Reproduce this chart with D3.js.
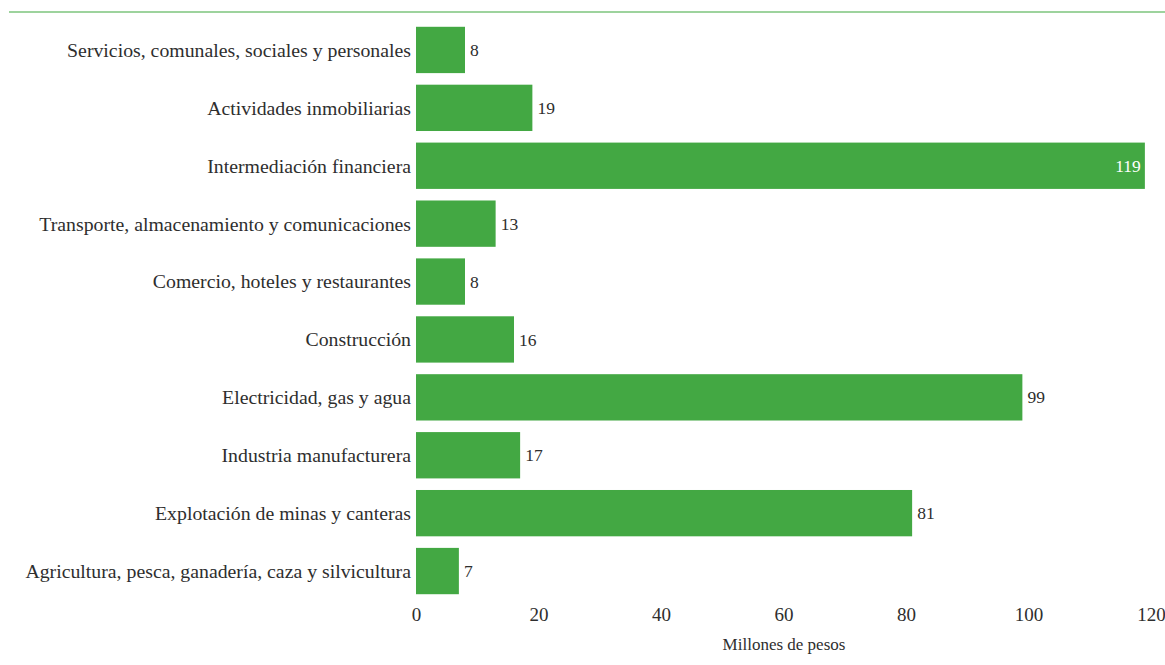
<!DOCTYPE html>
<html>
<head>
<meta charset="utf-8">
<script src="https://cdn.jsdelivr.net/npm/d3@7"></script>
<style>
  html, body { margin: 0; padding: 0; background: #fff; }
  svg { display: block; font-family: "Liberation Serif", "DejaVu Serif", serif; }
</style>
</head>
<body>
<svg id="chart" width="1165" height="665"></svg>
<script>
// Sectors, top to bottom
const categories = [
  "Servicios, comunales, sociales y personales",
  "Actividades inmobiliarias",
  "Intermediación financiera",
  "Transporte, almacenamiento y comunicaciones",
  "Comercio, hoteles y restaurantes",
  "Construcción",
  "Electricidad, gas y agua",
  "Industria manufacturera",
  "Explotación de minas y canteras",
  "Agricultura, pesca, ganadería, caza y silvicultura"
];
const values = [8, 19, 119, 13, 8, 16, 99, 17, 81, 7];
const xTicks = [0, 20, 40, 60, 80, 100, 120];
const xTitle = "Millones de pesos";

const barColor = "#43a843";
const textColor = "#2e2e2e";

const svg = d3.select("#chart");
const left = 416, right = 1151;

const x = d3.scaleLinear().domain([0, 120]).range([left, right]);
const y = d3.scaleBand().domain(categories).range([21, 600])
  .paddingInner(0.2).paddingOuter(0.1);

// Top rule
svg.append("line")
  .attr("x1", 9).attr("x2", 1165).attr("y1", 12).attr("y2", 12)
  .attr("stroke", "#7cc47d").attr("stroke-width", 1.5);

// Bars
svg.append("g").selectAll("rect").data(values).join("rect")
  .attr("x", x(0))
  .attr("y", (d, i) => y(categories[i]))
  .attr("width", d => x(d) - x(0))
  .attr("height", y.bandwidth())
  .attr("fill", barColor);

// Category labels
svg.append("g").selectAll("text").data(categories).join("text")
  .attr("x", left - 5)
  .attr("y", d => y(d) + y.bandwidth() / 2)
  .attr("dy", "0.35em")
  .attr("text-anchor", "end")
  .attr("font-size", 19.8)
  .attr("fill", textColor)
  .text(d => d);

// Value labels: inside the bar when it runs to the axis end
svg.append("g").selectAll("text").data(values).join("text")
  .attr("x", d => d > 110 ? x(d) - 4 : x(d) + 5)
  .attr("y", (d, i) => y(categories[i]) + y.bandwidth() / 2)
  .attr("dy", "0.35em")
  .attr("text-anchor", d => d > 110 ? "end" : "start")
  .attr("font-size", 17.5)
  .attr("fill", d => d > 110 ? "#ffffff" : textColor)
  .text(d => d);

// X axis (labels only)
const xAxis = d3.axisBottom(x).tickValues(xTicks).tickSize(0).tickPadding(0);
const gx = svg.append("g").attr("transform", "translate(0,607)").call(xAxis);
gx.select(".domain").remove();
gx.selectAll("text")
  .attr("font-family", "Liberation Serif, DejaVu Serif, serif")
  .attr("font-size", 19)
  .attr("fill", textColor);

svg.append("text")
  .attr("x", 784).attr("y", 650)
  .attr("text-anchor", "middle")
  .attr("font-size", 17)
  .attr("fill", textColor)
  .text(xTitle);
</script>
</body>
</html>
